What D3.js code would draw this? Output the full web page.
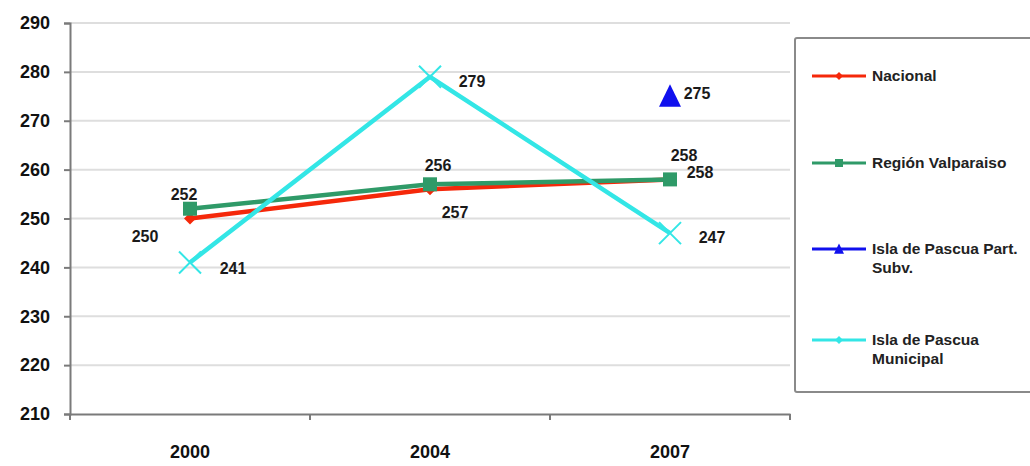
<!DOCTYPE html>
<html>
<head>
<meta charset="utf-8">
<script src="https://cdn.jsdelivr.net/npm/d3@7"></script>
<style>
  html, body { margin: 0; padding: 0; background: #fff; }
  svg { display: block; font-family: "Liberation Sans", Arial, sans-serif; font-weight: bold; }
</style>
</head>
<body>
<svg id="chart" width="1030" height="466"></svg>
<script>
// ---- data ----
const years = ['2000', '2004', '2007'];
const nacional = [250, 256, 258];
const region = [252, 257, 258];
const pascuaPart = [null, null, 275];
const pascuaMun = [241, 279, 247];
const yTicks = [210, 220, 230, 240, 250, 260, 270, 280, 290];

const series = [
  { name: ['Nacional'], values: nacional, color: '#f5280a', marker: 'diamond',
    labelOff: [[-45, 18], [8, -24], [14, -24]] },
  { name: ['Región Valparaiso'], values: region, color: '#2f9a68', marker: 'square',
    labelOff: [[-6, -14], [25, 28], [30, -7]] },
  { name: ['Isla de Pascua Part.', 'Subv.'], values: pascuaPart, color: '#1010ee', marker: 'triangle',
    labelOff: [null, null, [27, -3]] },
  { name: ['Isla de Pascua', 'Municipal'], values: pascuaMun, color: '#33e6e6', marker: 'x',
    labelOff: [[43, 6], [42, 5], [42, 4]] }
];

const svg = d3.select('#chart');
const margin = { left: 70, right: 790, top: 23, bottom: 414 };

const x = d3.scaleBand().domain(years).range([margin.left, margin.right]);
const y = d3.scaleLinear().domain([210, 290]).range([margin.bottom, margin.top]);

// grid
svg.append('g').selectAll('line').data(yTicks.slice(1)).join('line')
  .attr('x1', margin.left).attr('x2', margin.right)
  .attr('y1', d => y(d)).attr('y2', d => y(d))
  .attr('stroke', '#dedede').attr('stroke-width', 2);

// y axis
const yAxis = svg.append('g').attr('transform', `translate(${margin.left},0)`)
  .call(d3.axisLeft(y).tickValues(yTicks).tickSize(6).tickPadding(14));
yAxis.select('.domain').attr('stroke', '#7a7a7a').attr('stroke-width', 2);
yAxis.selectAll('.tick line').attr('stroke', '#7a7a7a').attr('stroke-width', 2);
yAxis.selectAll('text').attr('font-size', 18).attr('fill', '#111').attr('font-weight', 'bold')
  .attr('font-family', '"Liberation Sans", Arial, sans-serif');

// x axis
const xAxis = svg.append('g').attr('transform', `translate(0,${margin.bottom})`)
  .call(d3.axisBottom(x).tickSize(0).tickPadding(31));
xAxis.select('.domain').attr('stroke', '#7a7a7a').attr('stroke-width', 2);
xAxis.selectAll('text').attr('font-size', 18).attr('fill', '#111').attr('font-weight', 'bold')
  .attr('font-family', '"Liberation Sans", Arial, sans-serif');
// category boundary ticks
const bounds = years.map(d => x(d)).concat([x(years[years.length - 1]) + x.bandwidth()]);
xAxis.selectAll('.bound').data(bounds).join('line').attr('class', 'bound')
  .attr('x1', d => d).attr('x2', d => d).attr('y1', 0).attr('y2', 6)
  .attr('stroke', '#7a7a7a').attr('stroke-width', 2);

const cx = i => x(years[i]) + x.bandwidth() / 2;

function drawMarker(g, type, px, py, color, s) {
  if (type === 'diamond') {
    g.append('path').attr('d', `M${px},${py - s}L${px + s},${py}L${px},${py + s}L${px - s},${py}Z`)
      .attr('fill', color);
  } else if (type === 'square') {
    g.append('rect').attr('x', px - s).attr('y', py - s).attr('width', 2 * s).attr('height', 2 * s)
      .attr('fill', color);
  } else if (type === 'triangle') {
    g.append('path').attr('d', `M${px},${py - s * 1.1}L${px + s},${py + s * 0.95}L${px - s},${py + s * 0.95}Z`)
      .attr('fill', color);
  } else if (type === 'x') {
    g.append('path').attr('d', `M${px - s},${py - s}L${px + s},${py + s}M${px + s},${py - s}L${px - s},${py + s}`)
      .attr('stroke', color).attr('stroke-width', 2);
  }
}

const markerSize = { diamond: 6, square: 7, triangle: 11, x: 11 };
const line = d3.line().defined(d => d.v != null).x(d => cx(d.i)).y(d => y(d.v));

// lines and markers
const plot = svg.append('g');
series.forEach(s => {
  const pts = s.values.map((v, i) => ({ v, i }));
  plot.append('path').datum(pts).attr('d', line)
    .attr('fill', 'none').attr('stroke', s.color).attr('stroke-width', 4.5)
    .attr('stroke-linejoin', 'round');
  pts.filter(p => p.v != null).forEach(p => {
    drawMarker(plot, s.marker, cx(p.i), y(p.v), s.color, markerSize[s.marker]);
  });
});

// data labels
const labels = svg.append('g').attr('font-size', 16).attr('fill', '#1a1a1a');
series.forEach(s => {
  s.values.forEach((v, i) => {
    if (v == null || !s.labelOff[i]) return;
    const [dx, dy] = s.labelOff[i];
    labels.append('text').attr('x', cx(i) + dx).attr('y', y(v) + dy)
      .attr('text-anchor', 'middle').attr('dy', '0.35em').text(v);
  });
});

// legend
const lg = svg.append('g');
lg.append('rect').attr('x', 795).attr('y', 38).attr('width', 260).attr('height', 354)
  .attr('fill', '#fff').attr('stroke', '#8a8a8a').attr('stroke-width', 2).attr('rx', 2);
const legendY = [76, 163, 249, 340];
series.forEach((s, i) => {
  const ly = legendY[i];
  lg.append('line').attr('x1', 812).attr('x2', 866).attr('y1', ly).attr('y2', ly)
    .attr('stroke', s.color).attr('stroke-width', 3);
  drawMarker(lg, s.marker === 'x' ? 'diamond' : s.marker, 839, ly, s.color, s.marker === 'triangle' ? 5 : 4);
  s.name.forEach((t, j) => {
    lg.append('text').attr('x', 872).attr('y', ly + j * 19).attr('dy', '0.35em')
      .attr('font-size', 15.5).attr('textLength', null).attr('fill', '#222').text(t);
  });
});
</script>
</body>
</html>
